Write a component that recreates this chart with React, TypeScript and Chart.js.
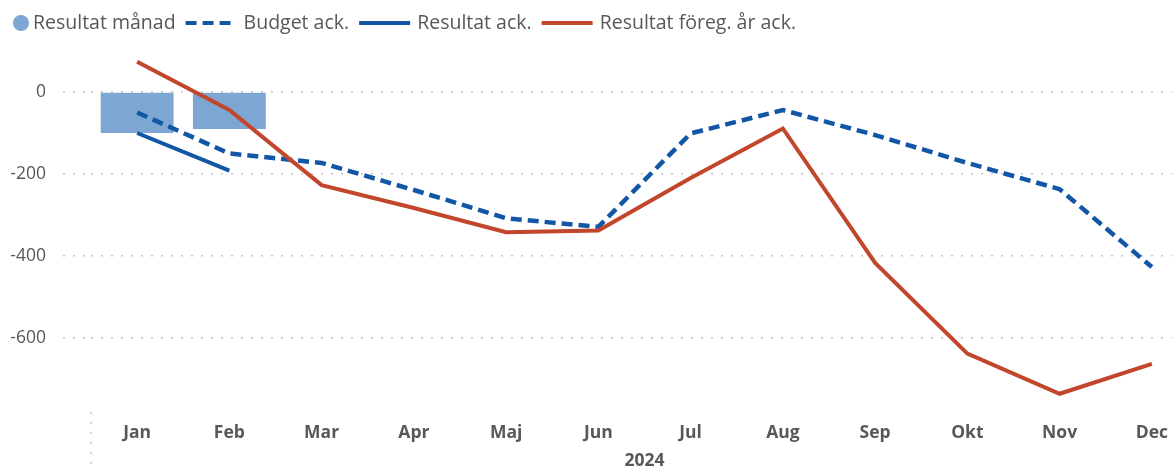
import React, { useEffect, useRef } from "react";
import { Chart, registerables } from "chart.js";

Chart.register(...registerables);

const months = ["Jan", "Feb", "Mar", "Apr", "Maj", "Jun", "Jul", "Aug", "Sep", "Okt", "Nov", "Dec"];
const resultatManad = [-100, -90, null, null, null, null, null, null, null, null, null, null];
const budgetAck = [-50, -150, -173, -239, -308, -329, -101, -44, -105, -173, -237, -427];
const resultatAck = [-100, -192, null, null, null, null, null, null, null, null, null, null];
const foregArAck = [74, -44, -227, -283, -342, -338, -210, -89, -417, -638, -736, -663];
const yTickValues = [-600, -400, -200, 0];
const yearLabel = "2024";

const BAR = "#7EA6D3";
const BLUE = "#1157A5";
const ORANGE = "#C2462B";
const TEXT = "#5A5856";
const GRID = "#C4C4C4";
const FONT = '"Open Sans", "Noto Sans", sans-serif';

const legendPlugin = {
  id: "customLegend",
  afterDraw(chart: any) {
    const ctx = chart.ctx;
    ctx.save();
    ctx.font = `400 19.5px ${FONT}`;
    ctx.textBaseline = "middle";
    ctx.fillStyle = TEXT;
    const y = 23;
    let x = 13;
    chart.data.datasets.forEach((ds: any) => {
      if (ds.type === "bar") {
        ctx.beginPath();
        ctx.fillStyle = ds.backgroundColor;
        ctx.arc(x + 8, y, 8, 0, Math.PI * 2);
        ctx.fill();
        x += 20;
      } else {
        ctx.beginPath();
        ctx.strokeStyle = ds.borderColor;
        ctx.lineWidth = 4;
        ctx.setLineDash(ds.borderDash || []);
        ctx.moveTo(x, y);
        ctx.lineTo(x + 51, y);
        ctx.stroke();
        ctx.setLineDash([]);
        x += 58;
      }
      ctx.fillStyle = TEXT;
      ctx.textAlign = "left";
      ctx.fillText(ds.label, x, y);
      x += ctx.measureText(ds.label).width + 10;
    });
    ctx.restore();
  },
};

const separatorPlugin = {
  id: "separator",
  afterDraw(chart: any) {
    const { ctx, chartArea, height } = chart;
    ctx.save();
    ctx.strokeStyle = GRID;
    ctx.lineWidth = 1.5;
    ctx.setLineDash([2, 8]);
    ctx.beginPath();
    ctx.moveTo(chartArea.left, chartArea.bottom);
    ctx.lineTo(chartArea.left, height);
    ctx.stroke();
    ctx.restore();
  },
};

export default function App() {
  const ref = useRef<HTMLCanvasElement | null>(null);

  useEffect(() => {
    if (!ref.current) return;
    const chart = new Chart(ref.current, {
      data: {
        labels: months,
        datasets: [
          {
            type: "bar",
            label: "Resultat månad",
            data: resultatManad,
            backgroundColor: BAR,
            categoryPercentage: 1,
            barPercentage: 0.79,
            order: 4,
          },
          {
            type: "line",
            label: "Budget ack.",
            data: budgetAck,
            borderColor: BLUE,
            borderWidth: 4.5,
            borderDash: [11, 6],
            pointRadius: 0,
            tension: 0,
            order: 3,
          },
          {
            type: "line",
            label: "Resultat ack.",
            data: resultatAck,
            borderColor: BLUE,
            borderWidth: 4,
            pointRadius: 0,
            tension: 0,
            order: 2,
          },
          {
            type: "line",
            label: "Resultat föreg. år ack.",
            data: foregArAck,
            borderColor: ORANGE,
            borderWidth: 4,
            pointRadius: 0,
            tension: 0,
            order: 1,
          },
        ] as any,
      },
      options: {
        animation: false,
        responsive: false,
        devicePixelRatio: 1,
        layout: { padding: { top: 51, right: 2, left: 0, bottom: 0 } },
        plugins: {
          legend: { display: false },
          tooltip: { enabled: false },
        },
        scales: {
          x: {
            offset: true,
            grid: { display: false },
            border: { display: false },
            ticks: {
              color: TEXT,
              font: { family: FONT, size: 17.5, weight: "bold" as any },
              padding: 3,
              maxRotation: 0,
              autoSkip: false,
            },
            title: {
              display: true,
              text: yearLabel,
              color: TEXT,
              font: { family: FONT, size: 17.5, weight: "bold" as any, lineHeight: 1 },
              padding: { top: 0, bottom: 0 },
            },
            afterFit(scale: any) {
              scale.height = 58.2;
            },
          },
          y: {
            min: -780,
            max: 100,
            afterBuildTicks(scale: any) {
              scale.ticks = yTickValues.map((v) => ({ value: v }));
            },
            border: { display: false, dash: [2, 8] },
            grid: {
              color: GRID,
              lineWidth: 1.5,
              drawTicks: true,
              tickLength: 28,
              tickColor: GRID,
              tickWidth: 1.5,
              tickBorderDash: [2, 8],
            },
            ticks: {
              color: TEXT,
              font: { family: FONT, size: 17.5 },
              padding: 17,
            },
            afterFit(scale: any) {
              scale.width = 91;
            },
          },
        },
      },
      plugins: [legendPlugin, separatorPlugin],
    });
    return () => chart.destroy();
  }, []);

  return (
    <div style={{ position: "fixed", left: 0, top: 0, width: 1200, height: 470, background: "#fff" }}>
      <canvas ref={ref} width={1200} height={470} style={{ display: "block" }} />
    </div>
  );
}
